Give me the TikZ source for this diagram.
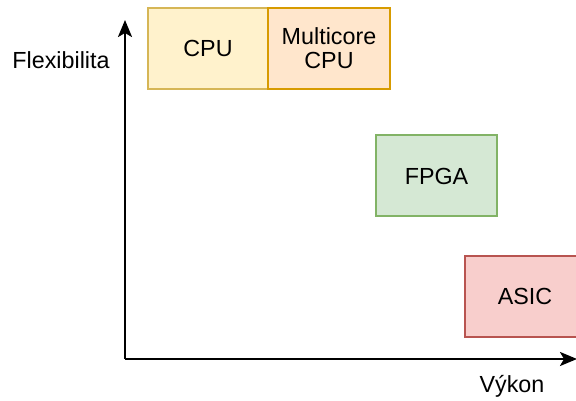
\documentclass[tikz,border=0pt]{standalone}
\usepackage{fontspec}
\setmainfont{Liberation Sans}
\usetikzlibrary{arrows.meta}
\begin{document}
\begin{tikzpicture}[x=1pt,y=1pt,
  txt/.style={font=\fontsize{23.3}{27}\selectfont, text=black},
  box/.style={txt, draw, line width=2pt, minimum height=81pt, align=center, inner sep=0pt},
  cpubox/.style={box, fill={rgb,255:red,255;green,242;blue,204}, draw={rgb,255:red,214;green,182;blue,86}},
  mcbox/.style={box, fill={rgb,255:red,255;green,230;blue,204}, draw={rgb,255:red,215;green,155;blue,0}},
  fpgabox/.style={box, fill={rgb,255:red,213;green,232;blue,212}, draw={rgb,255:red,130;green,179;blue,102}},
  asicbox/.style={box, fill={rgb,255:red,248;green,206;blue,204}, draw={rgb,255:red,184;green,84;blue,80}},
  axis/.style={line width=2.5pt, -{Stealth[length=17pt,width=14pt,inset=4pt]}}
]
\useasboundingbox (0,0) rectangle (576,401);
\clip (0,0) rectangle (576,401);

% technology boxes
\node[cpubox, minimum width=120pt] (cpu) at (208,352.5) {CPU};
\node[mcbox, minimum width=122pt] (mc) at (329,352.5) {Multicore\\[-3pt]CPU};
\node[fpgabox, minimum width=121pt] (fpga) at (436.5,225) {FPGA};
\node[asicbox, minimum width=120pt] (asic) at (525,104.5) {ASIC};

% axes
\coordinate (o) at (125,42);
\coordinate (ytip) at (125,381);
\coordinate (xtip) at (577,42);
\draw[axis] (o) -- (ytip);
\draw[axis] (o) -- (xtip);

% axis labels
\node[txt] (flex) at (61,341) {Flexibilita};
\node[txt] (vykon) at (512,15) {Výkon};
\end{tikzpicture}
\end{document}
